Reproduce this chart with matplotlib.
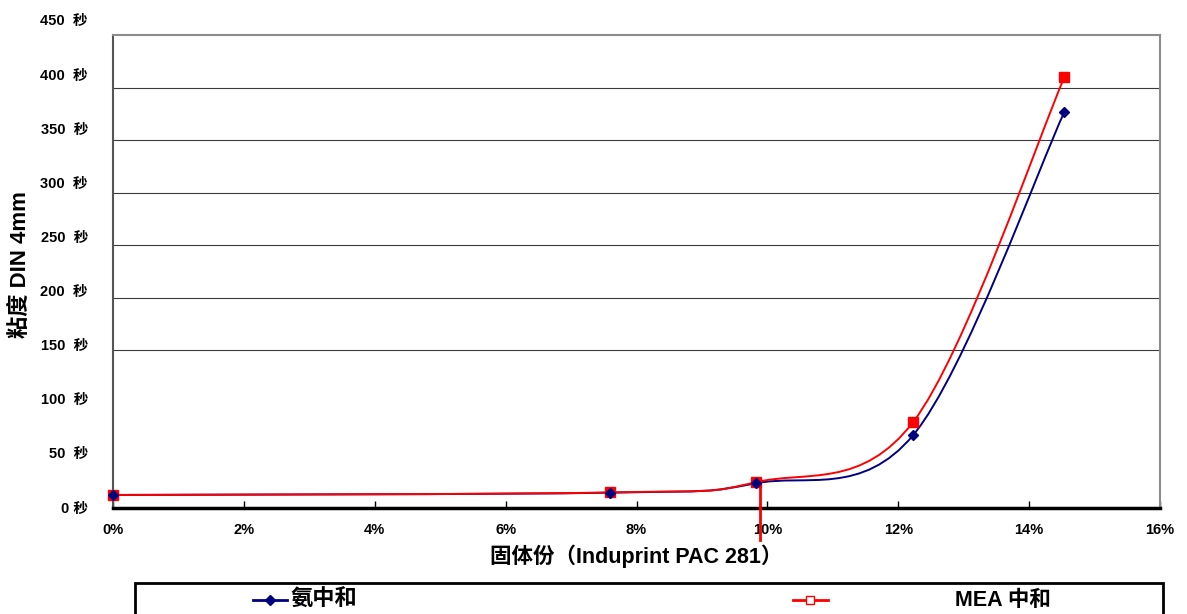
import matplotlib
matplotlib.use("Agg")
import numpy as np
import matplotlib.pyplot as plt
from matplotlib.path import Path
from matplotlib.patches import PathPatch, Rectangle
from matplotlib.lines import Line2D

# -- Data ---------------------------------------------------------------------
solids_pct = [0.0, 7.6, 9.82, 12.23, 14.54]
ammonia_sec = [12.4, 14.6, 23.5, 69.5, 377]
mea_sec = [12.4, 14.8, 24.5, 82, 410]

x_ticks = [0, 2, 4, 6, 8, 10, 12, 14, 16]
x_labels = ["0%", "2%", "4%", "6%", "8%", "10%", "12%", "14%", "16%"]
y_ticks = [0, 50, 100, 150, 200, 250, 300, 350, 400, 450]
y_labels = ["0 秒"] + [f"{v}  秒" for v in y_ticks[1:]]
grid_vals = [150, 200, 250, 300, 350, 400]

FONT = ["Liberation Sans", "Noto Sans CJK SC", "DejaVu Sans"]
plt.rcParams["font.family"] = FONT
plt.rcParams["font.weight"] = "bold"

NAVY = "#000080"
RED = "#FF0000"
GRAY = "#8c8c8c"
W, H = 1187, 614


def smooth_path(xs, ys):
    """Excel-style smoothed line: cubic Bezier through every point."""
    pts = np.column_stack([xs, ys]).astype(float)
    n = len(pts)
    verts = [pts[0]]
    codes = [Path.MOVETO]
    for i in range(n - 1):
        p0 = pts[i - 1] if i > 0 else pts[i]
        p1, p2 = pts[i], pts[i + 1]
        p3 = pts[i + 2] if i + 2 < n else pts[i + 1]
        verts += [p1 + (p2 - p0) / 6, p2 - (p3 - p1) / 6, p2]
        codes += [Path.CURVE4] * 3
    return Path(verts, codes)


fig = plt.figure(figsize=(W / 100, H / 100), dpi=100)
ax = fig.add_axes([113 / W, 1 - 508 / H, 1047 / W, 473 / H])
ax.set_xlim(0, 16)
ax.set_ylim(0, 450)

for v in grid_vals:
    ax.axhline(v, color="#3a3a3a", lw=0.8, zorder=1)

# curves
ax.add_patch(PathPatch(smooth_path(solids_pct, mea_sec), fc="none",
                       ec=RED, lw=1.4, zorder=3))
ax.add_patch(PathPatch(smooth_path(solids_pct, ammonia_sec), fc="none",
                       ec=NAVY, lw=1.4, zorder=2))
ax.plot([9.89, 9.89], [mea_sec[2] - 1, -30], color=RED, lw=2,
        clip_on=False, zorder=3)
ax.plot(solids_pct, mea_sec, ls="none", marker="s", ms=7, mfc=RED,
        mec=RED, zorder=4, clip_on=False)
ax.plot(solids_pct, ammonia_sec, ls="none", marker="D", ms=5, mfc=NAVY,
        mec=NAVY, zorder=5, clip_on=False)

# spines
for s in ("left", "right", "top"):
    ax.spines[s].set_color(GRAY)
    ax.spines[s].set_linewidth(1.5)
ax.spines["left"].set_color("#555555")
ax.spines["bottom"].set_color("black")
ax.spines["bottom"].set_linewidth(2.5)

ax.set_xticks(x_ticks)
ax.set_xticklabels(x_labels, fontsize=10.5, fontweight="bold")
ax.tick_params(axis="x", direction="in", length=5, width=1, pad=11)
ax.set_yticks([])

ax.set_xlabel("固体份（Induprint PAC 281）", fontsize=15.5, fontweight="bold",
              labelpad=5)

# the value labels in the original sit on a slightly taller scale than the grid
lab = fig.add_axes([113 / W, 1 - 507 / H, 0.001, 487 / H])
lab.set_ylim(0, 450)
lab.set_yticks(y_ticks)
lab.set_yticklabels(y_labels, fontsize=10.5, fontweight="bold")
lab.tick_params(axis="y", length=0, pad=18)
lab.set_xticks([])
for s in lab.spines.values():
    s.set_visible(False)
lab.patch.set_visible(False)

fig.text(20 / W, 1 - 265 / H, "粘度 DIN 4mm", fontsize=16, fontweight="bold",
         rotation=90, ha="center", va="center")

# legend box (drawn by hand to match the original layout)
fig.patches.append(Rectangle((135 / W, -0.05), 1028 / W,
                             (1 - 583 / H) + 0.05, transform=fig.transFigure,
                             fc="white", ec="black", lw=2))
ly = 1 - 600 / H
fig.lines.append(Line2D([253 / W, 287 / W], [ly, ly], color=NAVY, lw=2,
                        transform=fig.transFigure))
fig.lines.append(Line2D([270 / W], [ly], color=NAVY, marker="D", ms=5,
                        ls="none", transform=fig.transFigure))
fig.text(290 / W, ly, "氨中和", fontsize=16, fontweight="bold",
         va="center", ha="left")
fig.lines.append(Line2D([793 / W, 828 / W], [ly, ly], color=RED, lw=2,
                        transform=fig.transFigure))
fig.lines.append(Line2D([810 / W], [ly], color=RED, marker="s", ms=6,
                        mfc="white", mec=RED, ls="none",
                        transform=fig.transFigure))
fig.text(955 / W, ly, "MEA 中和", fontsize=15.5, fontweight="bold",
         va="center", ha="left")

fig.savefig("out.png", dpi=100, facecolor="white")
